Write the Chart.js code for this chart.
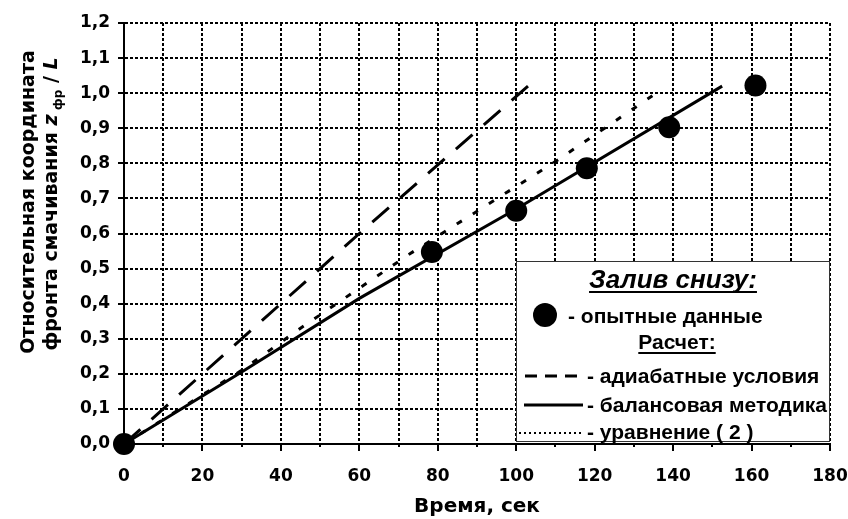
<!DOCTYPE html>
<html>
<head>
<meta charset="utf-8">
<script src="https://cdn.jsdelivr.net/npm/chart.js@4.4.0/dist/chart.umd.min.js"></script>
<style>
  html, body { margin: 0; padding: 0; background: #fff; }
  #wrap { width: 848px; height: 519px; }
</style>
</head>
<body>
<div id="wrap"><canvas id="wettingChart" width="848" height="519"></canvas></div>
<script>
// опытные данные (залив снизу)
const expTime = [0, 78.5, 100, 118, 139, 161];
const expZ = [0, 0.547, 0.665, 0.786, 0.903, 1.022];

// расчет: адиабатные условия
const adiabTime = [0, 40, 60, 103];
const adiabZ = [0, 0.4, 0.6, 1.02];

// расчет: балансовая методика
const balanceTime = [0, 30, 60, 100, 152.5];
const balanceZ = [0, 0.205, 0.415, 0.67, 1.02];

// расчет: уравнение (2)
const eq2Time = [0, 30, 45, 73, 110, 137];
const eq2Z = [0, 0.21, 0.33, 0.543, 0.805, 1.01];

const xTickLabels = ["0", "20", "40", "60", "80", "100", "120", "140", "160", "180"];
const yTickLabels = ["0,0", "0,1", "0,2", "0,3", "0,4", "0,5", "0,6",
  "0,7", "0,8", "0,9", "1,0", "1,1", "1,2"];

const toPoints = (xs, ys) => xs.map((x, i) => ({ x: x, y: ys[i] }));

const axisFont = { family: "DejaVu Sans", size: 17, weight: "bold" };

function drawTickMarks(chart) {
  const ctx = chart.ctx;
  const xs = chart.scales.x;
  const ys = chart.scales.y;
  const area = chart.chartArea;
  ctx.save();
  ctx.strokeStyle = "#000";
  ctx.lineWidth = 2;
  ctx.beginPath();
  xs.ticks.forEach((t) => {
    const px = Math.round(xs.getPixelForValue(t.value));
    const len = t.value % 20 === 0 ? 7 : 3;
    ctx.moveTo(px, area.bottom);
    ctx.lineTo(px, area.bottom + len);
  });
  ys.ticks.forEach((t) => {
    const py = Math.round(ys.getPixelForValue(t.value));
    ctx.moveTo(area.left - 6, py);
    ctx.lineTo(area.left, py);
  });
  ctx.stroke();
  ctx.restore();
}

function drawYTitle(ctx) {
  ctx.save();
  ctx.fillStyle = "#000";
  ctx.textBaseline = "alphabetic";

  ctx.save();
  ctx.translate(34, 202);
  ctx.rotate(-Math.PI / 2);
  ctx.font = 'bold 19px "DejaVu Sans"';
  ctx.textAlign = "center";
  ctx.fillText("Относительная координата", 0, 0);
  ctx.restore();

  const parts = [
    { t: "фронта смачивания ", f: 'bold 19px "DejaVu Sans"', dy: 0 },
    { t: "z", f: 'italic bold 19px "DejaVu Sans"', dy: 0 },
    { t: " фр", f: 'bold 12px "DejaVu Sans"', dy: 5 },
    { t: " / ", f: 'bold 19px "DejaVu Sans"', dy: 0 },
    { t: "L", f: 'italic bold 19px "DejaVu Sans"', dy: 0 },
  ];
  let total = 0;
  parts.forEach((p) => {
    ctx.font = p.f;
    p.w = ctx.measureText(p.t).width;
    total += p.w;
  });
  ctx.translate(57, 204);
  ctx.rotate(-Math.PI / 2);
  ctx.textAlign = "left";
  let x = -total / 2;
  parts.forEach((p) => {
    ctx.font = p.f;
    ctx.fillText(p.t, x, p.dy);
    x += p.w;
  });
  ctx.restore();
}

function drawXTitle(ctx, chart) {
  ctx.save();
  ctx.fillStyle = "#000";
  ctx.font = 'bold 20px "DejaVu Sans"';
  ctx.textAlign = "center";
  ctx.textBaseline = "alphabetic";
  const area = chart.chartArea;
  ctx.fillText("Время, сек", (area.left + area.right) / 2, 512);
  ctx.restore();
}

function underlineText(ctx, text, cx, baseY) {
  const w = ctx.measureText(text).width;
  ctx.fillText(text, cx, baseY);
  ctx.fillRect(cx - w / 2, baseY + 3, w, 2);
}

function drawLegendBox(ctx) {
  ctx.save();
  ctx.fillStyle = "#fff";
  ctx.fillRect(517, 262, 313, 180);
  ctx.strokeStyle = "#333";
  ctx.lineWidth = 1;
  ctx.strokeRect(516.5, 261.5, 313, 180);

  ctx.fillStyle = "#000";
  ctx.textBaseline = "alphabetic";
  ctx.textAlign = "center";
  ctx.font = 'italic bold 26px "Liberation Sans"';
  underlineText(ctx, "Залив снизу:", 673, 288);
  ctx.font = 'bold 21px "Liberation Sans"';
  underlineText(ctx, "Расчет:", 677, 349);

  // кружок - опытные данные
  ctx.beginPath();
  ctx.arc(545, 315, 12, 0, Math.PI * 2);
  ctx.fill();

  ctx.textAlign = "left";
  ctx.fillText("- опытные данные", 568, 323);
  ctx.fillText("- адиабатные условия", 587, 383);
  ctx.fillText("- балансовая методика", 587, 412);
  ctx.fillText("- уравнение ( 2 )", 587, 439);

  ctx.strokeStyle = "#000";
  ctx.lineWidth = 3;
  ctx.setLineDash([12, 8]);
  ctx.beginPath();
  ctx.moveTo(525, 376);
  ctx.lineTo(583, 376);
  ctx.stroke();

  ctx.setLineDash([]);
  ctx.beginPath();
  ctx.moveTo(524, 405);
  ctx.lineTo(583, 405);
  ctx.stroke();

  ctx.lineWidth = 2;
  ctx.setLineDash([2, 3]);
  ctx.beginPath();
  ctx.moveTo(519, 433);
  ctx.lineTo(581, 433);
  ctx.stroke();
  ctx.restore();
}

const decor = {
  id: "decor",
  beforeDatasetsDraw(chart) {
    drawTickMarks(chart);
  },
  afterDatasetsDraw(chart) {
    drawLegendBox(chart.ctx);
  },
  afterDraw(chart) {
    drawYTitle(chart.ctx);
    drawXTitle(chart.ctx, chart);
  },
};

const canvas = document.getElementById("wettingChart");

new Chart(canvas, {
  type: "scatter",
  data: {
    datasets: [
      {
        label: "опытные данные",
        data: toPoints(expTime, expZ),
        showLine: false,
        pointRadius: 11,
        pointHoverRadius: 11,
        pointBackgroundColor: "#000",
        pointBorderColor: "#000",
        pointBorderWidth: 0,
        clip: false,
      },
      {
        label: "адиабатные условия",
        data: toPoints(adiabTime, adiabZ),
        showLine: true,
        borderColor: "#000",
        borderWidth: 3,
        borderDash: [22, 15],
        pointRadius: 0,
        fill: false,
      },
      {
        label: "балансовая методика",
        data: toPoints(balanceTime, balanceZ),
        showLine: true,
        borderColor: "#000",
        borderWidth: 3,
        pointRadius: 0,
        fill: false,
      },
      {
        label: "уравнение ( 2 )",
        data: toPoints(eq2Time, eq2Z),
        showLine: true,
        borderColor: "#000",
        borderWidth: 3,
        borderDash: [6, 13],
        pointRadius: 0,
        fill: false,
      },
    ],
  },
  options: {
    responsive: false,
    animation: false,
    events: [],
    layout: { padding: { top: 23, right: 18, left: 0, bottom: 0 } },
    plugins: {
      legend: { display: false },
      tooltip: { enabled: false },
    },
    scales: {
      x: {
        type: "linear",
        min: 0,
        max: 180,
        afterFit: (s) => {
          s.height = 75;
          s.paddingLeft = 0;
          s.paddingRight = 0;
        },
        ticks: {
          stepSize: 10,
          autoSkip: false,
          maxRotation: 0,
          padding: 22,
          color: "#000",
          font: axisFont,
          callback: (v) => (v % 20 === 0 ? xTickLabels[v / 20] : ""),
        },
        grid: { color: "#000", lineWidth: 2, drawTicks: false },
        border: { display: true, color: "#000", width: 2, dash: [3, 2] },
      },
      y: {
        type: "linear",
        min: 0,
        max: 1.2,
        afterFit: (s) => {
          s.width = 124;
          s.paddingTop = 0;
          s.paddingBottom = 0;
        },
        ticks: {
          stepSize: 0.1,
          padding: 14,
          color: "#000",
          font: axisFont,
          callback: (v) => yTickLabels[Math.round(v * 10)],
        },
        grid: { color: "#000", lineWidth: 2, drawTicks: false },
        border: { display: true, color: "#000", width: 2, dash: [3, 2] },
      },
    },
  },
  plugins: [decor],
});
</script>
</body>
</html>
